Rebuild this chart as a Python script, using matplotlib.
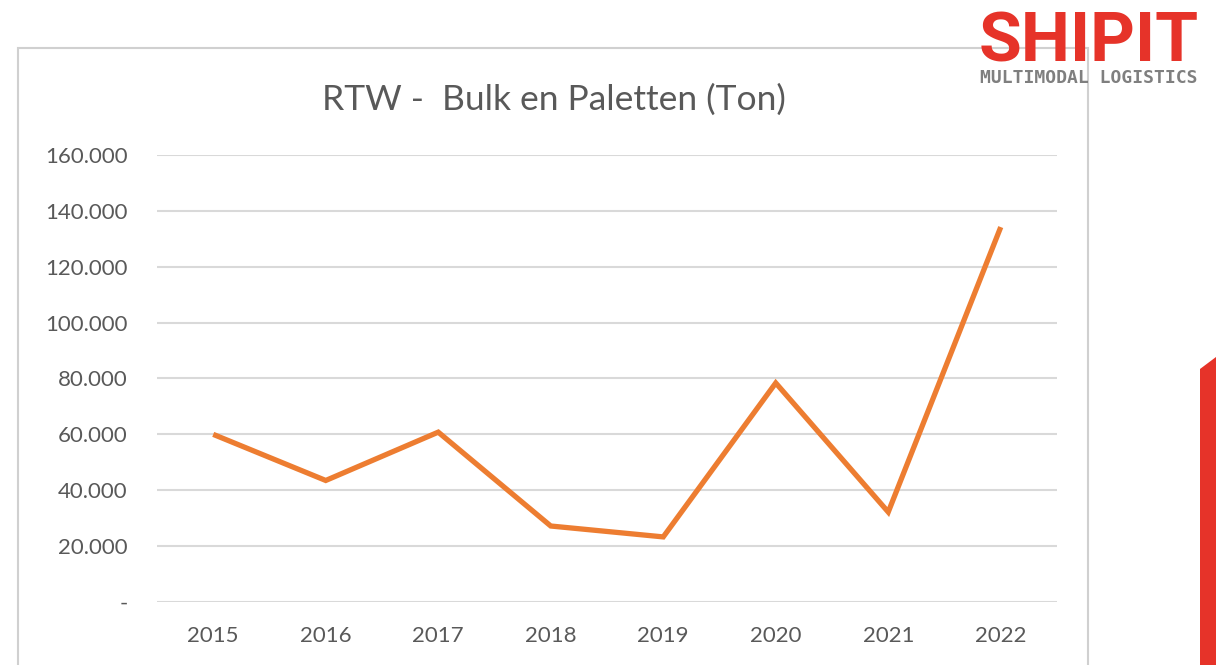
import matplotlib
matplotlib.use("Agg")
import matplotlib.pyplot as plt
from matplotlib.patches import Rectangle, Polygon
from matplotlib.ticker import FuncFormatter

# ── Data ──
years = ["2015", "2016", "2017", "2018", "2019", "2020", "2021", "2022"]
tonnage = [60000, 43500, 60800, 27200, 23300, 78400, 32200, 134200]
y_ticks = [0, 20000, 40000, 60000, 80000, 100000, 120000, 140000, 160000]

W, H = 1216, 665
fig = plt.figure(figsize=(W / 100, H / 100), dpi=100)
fig.patch.set_facecolor("white")

FONT = ["Lato", "DejaVu Sans"]
GRID = "#d9d9d9"
LABEL = "#595959"
ORANGE = "#ed7d31"


def fx(px):
    return px / W


def fy(py):
    return 1 - py / H


# ── Chart frame (Excel-style) ──
fig.add_artist(Rectangle((fx(18), fy(700)), fx(1088) - fx(18), fy(48) - fy(700),
                         transform=fig.transFigure, facecolor="white",
                         edgecolor="#d0d0d0", linewidth=1.5, zorder=0))

# ── Plot area ──
ax = fig.add_axes([fx(157), fy(602), fx(1057) - fx(157), fy(155) - fy(602)])
ax.set_facecolor("none")
x = list(range(len(years)))
ax.plot(x, tonnage, color=ORANGE, linewidth=3.8, solid_joinstyle="miter",
        solid_capstyle="butt", zorder=3)
ax.set_xlim(-0.5, len(years) - 0.5)
ax.set_ylim(y_ticks[0], y_ticks[-1])
ax.set_yticks(y_ticks)
ax.yaxis.set_major_formatter(FuncFormatter(
    lambda v, _: "-" if v == 0 else f"{int(v):,}".replace(",", ".")))
ax.set_xticks(x)
ax.set_xticklabels(years)
ax.grid(True, axis="y", color=GRID, linewidth=1.5, zorder=1)
ax.tick_params(axis="both", length=0, labelsize=16, labelcolor=LABEL)
ax.tick_params(axis="y", pad=21)
ax.tick_params(axis="x", pad=17)
for lab in ax.get_xticklabels() + ax.get_yticklabels():
    lab.set_family(FONT)
for s in ax.spines.values():
    s.set_visible(False)

# ── Title ──
fig.text(fx(554), fy(100), "RTW -  Bulk en Paletten (Ton)", ha="center", va="center",
         fontsize=25.5, color=LABEL, family=FONT)

# ── Logo (drawn over the chart frame, no backing box) ──
fig.text(fx(1089), fy(62), "SHIPIT", ha="center", va="baseline",
         fontsize=50, fontweight="bold", color="#e63329", family=["Roboto", "DejaVu Sans"],
         zorder=2)
fig.text(fx(1089), fy(83), "MULTIMODAL LOGISTICS", ha="center", va="baseline",
         fontsize=13, fontweight="bold", color="#7f7f7f", family=["DejaVu Sans Mono"],
         zorder=2)

# ── Red accent at right edge ──
fig.add_artist(Polygon([(fx(1200), fy(369)), (fx(1216), fy(357)),
                        (fx(1216), fy(665)), (fx(1200), fy(665))],
                       closed=True, transform=fig.transFigure,
                       facecolor="#e63329", edgecolor="none"))

fig.savefig("out.png", dpi=100)
